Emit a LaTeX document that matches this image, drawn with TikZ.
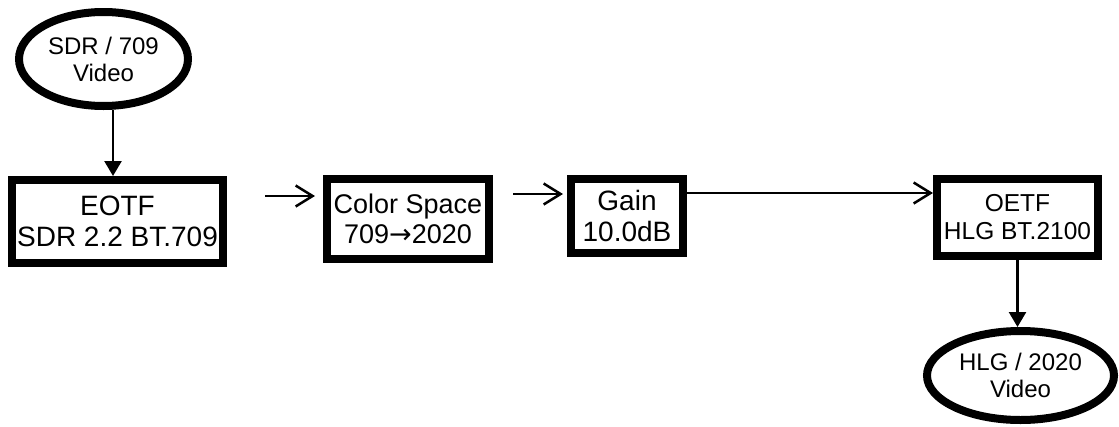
\documentclass[tikz,border=0pt]{standalone}
\usepackage{fontspec}
\setmainfont{Liberation Sans}
\newfontfamily\arrowfont{DejaVu Sans}
\usetikzlibrary{shapes.geometric,arrows.meta,positioning}

\tikzset{
	block/.style={draw,rectangle,line width=8pt,fill=white,align=center,inner sep=0pt,font=\fontsize{28}{31}\selectfont},
	video/.style={draw,ellipse,line width=8pt,fill=white,align=center,inner sep=0pt,font=\fontsize{24}{27}\selectfont},
	down/.style={-{Triangle[length=15pt,width=17pt]},line width=2.5pt},
	flow/.style={-{Straight Barb[length=17pt,width=21pt,line width=2.5pt]},line width=2.5pt}
}

\begin{document}
\begin{tikzpicture}[x=1pt,y=-1pt]
		\useasboundingbox (0,0) rectangle (1119,426);

		\node[video,minimum width=169pt,minimum height=94pt] (sdr) at (103.5,59) {SDR / 709\\Video};
		\node[block,minimum width=211pt,minimum height=83pt] (eotf) at (117.5,221.5) {EOTF\\SDR 2.2 BT.709};
		\node[block,minimum width=162pt,minimum height=80pt,font=\fontsize{27}{30}\selectfont] (csc) at (408,219) {Color Space\\709{\arrowfont→}2020};
		\node[block,minimum width=112pt,minimum height=74pt] (gain) at (627,216) {Gain\\10.0dB};
		\node[block,minimum width=161pt,minimum height=77pt,font=\fontsize{24.5}{28}\selectfont] (oetf) at (1017.5,217.5) {OETF\\HLG BT.2100};
		\node[video,minimum width=187pt,minimum height=89pt] (hlg) at (1020.5,375.5) {HLG / 2020\\Video};

		\coordinate (in1) at (265,196);
		\coordinate (out1) at (315,196);
		\coordinate (in2) at (513,194);
		\coordinate (out2) at (563,194);
		\coordinate (gout) at ([yshift=23pt]gain.east);

		\draw[down] ([xshift=9.5pt]sdr.south) -- ([xshift=9.5pt]sdr.south |- eotf.north);
		\draw[flow] (in1) -- (out1);
		\draw[flow] (in2) -- (out2);
		\draw[flow] (gout) -- (gout -| oetf.west);
		\draw[down] (oetf.south) -- (oetf.south |- hlg.north);
\end{tikzpicture}
\end{document}
